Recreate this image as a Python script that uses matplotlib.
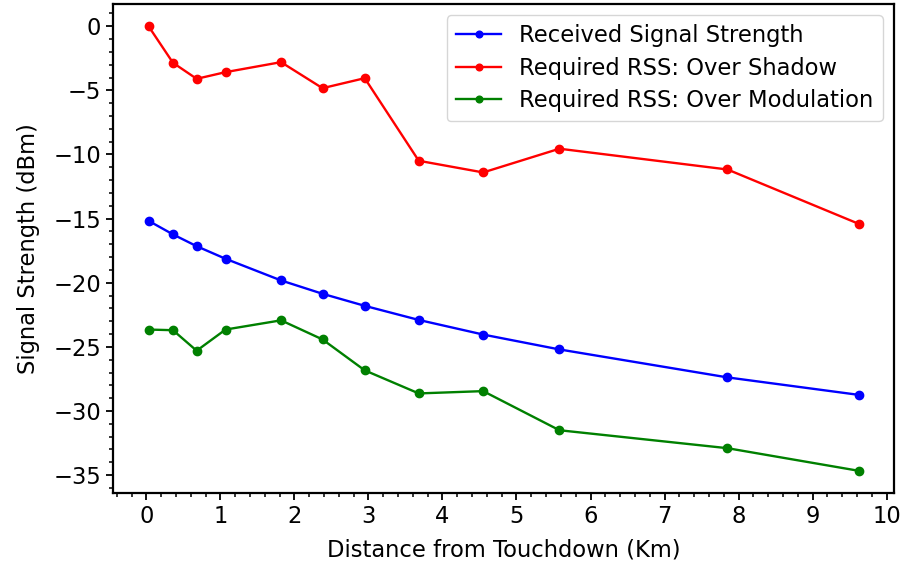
import matplotlib
matplotlib.use("Agg")
import matplotlib.pyplot as plt
from matplotlib.ticker import MultipleLocator

distance_km = [0.03, 0.36, 0.68, 1.07, 1.82, 2.38, 2.95, 3.68, 4.55, 5.58, 7.85, 9.62]
received_rss = [-15.17, -16.23, -17.15, -18.13, -19.82, -20.86, -21.8, -22.9, -24.04, -25.2, -27.38, -28.74]
required_shadow = [0.0, -2.85, -4.1, -3.58, -2.8, -4.83, -4.05, -10.49, -11.4, -9.55, -11.17, -15.4]
required_modulation = [-23.65, -23.7, -25.3, -23.65, -22.93, -24.42, -26.83, -28.63, -28.45, -31.5, -32.9, -34.66]

series_labels = ["Received Signal Strength", "Required RSS: Over Shadow", "Required RSS: Over Modulation"]

fs = 16.3
fig = plt.figure(figsize=(9.16, 5.64), dpi=100)
ax = fig.add_axes([0.1234, 0.1259, 0.8526, 0.867])

ax.plot(distance_km, received_rss, color="blue", marker="o", markersize=6, linewidth=1.7, label=series_labels[0])
ax.plot(distance_km, required_shadow, color="red", marker="o", markersize=6, linewidth=1.7, label=series_labels[1])
ax.plot(distance_km, required_modulation, color="green", marker="o", markersize=6, linewidth=1.7, label=series_labels[2])

ax.xaxis.set_major_locator(MultipleLocator(1))
ax.xaxis.set_minor_locator(MultipleLocator(0.2))
ax.yaxis.set_major_locator(MultipleLocator(5))
ax.yaxis.set_minor_locator(MultipleLocator(1))
ax.tick_params(which="major", length=5, width=1.3, labelsize=fs)
ax.tick_params(which="minor", length=3, width=1.1)
for s in ax.spines.values():
    s.set_linewidth(1.6)

ax.set_xlabel("Distance from Touchdown (Km)", fontsize=fs, labelpad=8)
ax.set_ylabel("Signal Strength (dBm)", fontsize=fs, labelpad=10)
ax.legend(loc="upper right", fontsize=fs, handlelength=2, markerscale=0.8, labelspacing=0.42)

fig.savefig("out.png", dpi=100)
